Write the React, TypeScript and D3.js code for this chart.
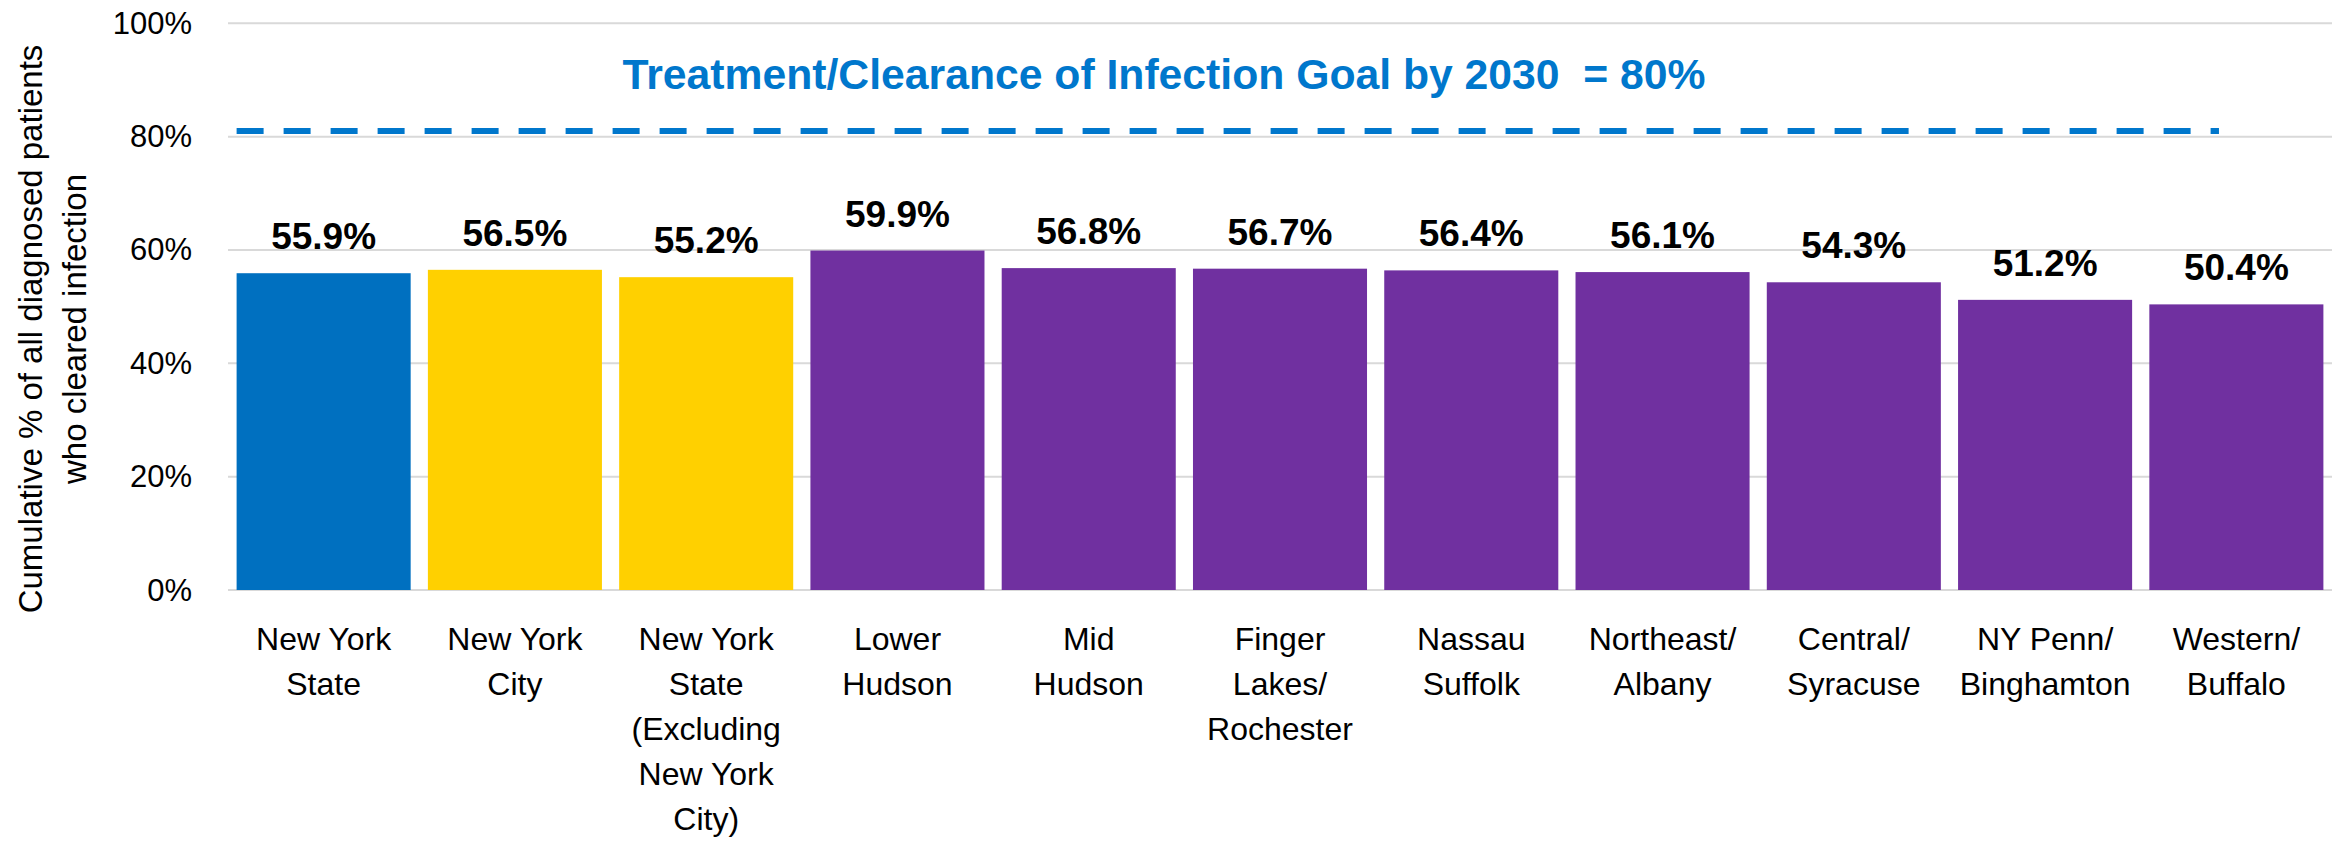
import React, { useRef, useEffect } from 'react';
import * as d3 from 'd3';

const categories = [
  ['New York', 'State'],
  ['New York', 'City'],
  ['New York', 'State', '(Excluding', 'New York', 'City)'],
  ['Lower', 'Hudson'],
  ['Mid', 'Hudson'],
  ['Finger', 'Lakes/', 'Rochester'],
  ['Nassau', 'Suffolk'],
  ['Northeast/', 'Albany'],
  ['Central/', 'Syracuse'],
  ['NY Penn/', 'Binghamton'],
  ['Western/', 'Buffalo']
];
const values = [55.9, 56.5, 55.2, 59.9, 56.8, 56.7, 56.4, 56.1, 54.3, 51.2, 50.4];
const groups = ['state', 'nyc', 'nyc', 'region', 'region', 'region', 'region', 'region', 'region', 'region', 'region'];
const yTicks = [0, 20, 40, 60, 80, 100];
const goalValue = 81;
const goalText = 'Treatment/Clearance of Infection Goal by 2030  = 80%';
const yTitle = ['Cumulative % of all diagnosed patients', 'who cleared infection'];

const colors = { state: '#0070C0', nyc: '#FFD000', region: '#7030A0' };
const W = 2343;
const H = 841;

const App = () => {
  const svgRef = useRef(null);

  useEffect(() => {
    document.body.style.margin = '0';
    const svg = d3.select(svgRef.current);
    svg.selectAll('*').remove();

    const ids = categories.map((c, i) => String(i));
    const x = d3.scaleBand().domain(ids).range([228, 2332]).paddingInner(0.09).paddingOuter(0.045);
    const y = d3.scaleLinear().domain([0, 100]).range([590, 23.3]);

    // gridlines
    svg
      .append('g')
      .selectAll('line')
      .data(yTicks)
      .join('line')
      .attr('x1', 228)
      .attr('x2', 2332)
      .attr('y1', d => y(d))
      .attr('y2', d => y(d))
      .attr('stroke', '#d9d9d9')
      .attr('stroke-width', 2);

    // y tick labels
    svg
      .append('g')
      .selectAll('text')
      .data(yTicks)
      .join('text')
      .attr('x', 192)
      .attr('y', d => y(d) + 10.5)
      .attr('text-anchor', 'end')
      .attr('font-family', '"Liberation Sans", Arial, sans-serif')
      .attr('font-size', 31)
      .attr('fill', '#000')
      .text(d => `${d}%`);

    // y title
    const yt = svg
      .append('text')
      .attr('transform', 'translate(42, 329) rotate(-90)')
      .attr('text-anchor', 'middle')
      .attr('font-family', '"Liberation Sans", Arial, sans-serif')
      .attr('font-size', 33)
      .attr('fill', '#000');
    yt.append('tspan').attr('x', 0).attr('y', 0).text(yTitle[0]);
    yt.append('tspan').attr('x', 0).attr('y', 44).text(yTitle[1]);

    // bars
    svg
      .append('g')
      .selectAll('rect')
      .data(values)
      .join('rect')
      .attr('x', (d, i) => x(ids[i]))
      .attr('y', d => y(d))
      .attr('width', x.bandwidth())
      .attr('height', d => y(0) - y(d))
      .attr('fill', (d, i) => colors[groups[i]]);

    // value labels
    svg
      .append('g')
      .selectAll('text')
      .data(values)
      .join('text')
      .attr('x', (d, i) => x(ids[i]) + x.bandwidth() / 2)
      .attr('y', d => y(d) - 24)
      .attr('text-anchor', 'middle')
      .attr('font-family', '"Liberation Sans", Arial, sans-serif')
      .attr('font-weight', 'bold')
      .attr('font-size', 37)
      .attr('fill', '#000')
      .text(d => `${d.toFixed(1)}%`);

    // category labels
    const cat = svg
      .append('g')
      .selectAll('text')
      .data(categories)
      .join('text')
      .attr('text-anchor', 'middle')
      .attr('font-family', '"Liberation Sans", Arial, sans-serif')
      .attr('font-size', 32)
      .attr('fill', '#000');
    cat.each(function (lines, i) {
      const cx = x(ids[i]) + x.bandwidth() / 2;
      d3.select(this)
        .selectAll('tspan')
        .data(lines)
        .join('tspan')
        .attr('x', cx)
        .attr('y', (l, j) => 650 + j * 45)
        .text(l => l);
    });

    // goal line
    const gx0 = x(ids[0]);
    const gx1 = x(ids[ids.length - 1]) + x.bandwidth() * 0.4;
    svg
      .append('line')
      .attr('x1', gx0)
      .attr('x2', gx1)
      .attr('y1', y(goalValue))
      .attr('y2', y(goalValue))
      .attr('stroke', '#0077CC')
      .attr('stroke-width', 6)
      .attr('stroke-dasharray', '27 20');

    svg
      .append('text')
      .attr('x', 1164)
      .attr('y', 89)
      .attr('text-anchor', 'middle')
      .attr('font-family', '"Liberation Sans", Arial, sans-serif')
      .attr('font-weight', 'bold')
      .attr('font-size', 43)
      .attr('fill', '#0077CC')
      .attr('textLength', 1083)
      .attr('lengthAdjust', 'spacingAndGlyphs')
      .style('white-space', 'pre')
      .text(goalText);
  }, []);

  return (
    <svg
      ref={svgRef}
      width={W}
      height={H}
      style={{ display: 'block', background: '#fff' }}
    />
  );
};

export default App;
